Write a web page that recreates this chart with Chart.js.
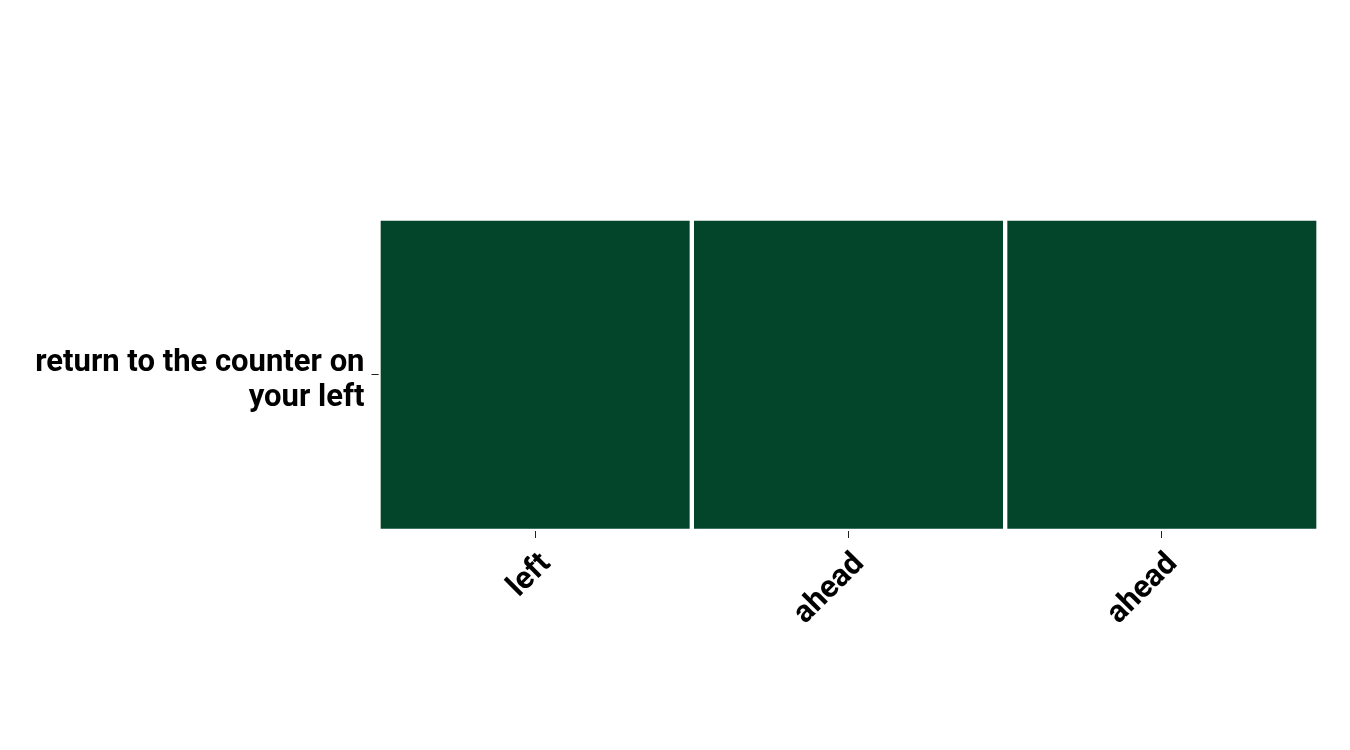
<!DOCTYPE html>
<html><head><meta charset="utf-8">
<script src="https://cdn.jsdelivr.net/npm/chart.js@4/dist/chart.umd.min.js"></script>
<style>html,body{margin:0;padding:0;background:#fff}#wrap{width:1350px;height:750px}</style>
</head><body><div id="wrap"><canvas id="c" width="1350" height="750"></canvas></div>
<script>
const columns = ["left", "ahead", "ahead"];
const rowLabel = ["return to the counter on", "your left"];
const cellValues = [1, 1, 1];
const cellColor = "#03452a";

new Chart(document.getElementById('c'), {
  type: 'bar',
  data: {
    labels: columns,
    datasets: [{
      data: cellValues.map(v => [0, v]),
      backgroundColor: cellColor,
      borderColor: '#ffffff',
      borderWidth: 2.5,
      borderSkipped: false,
      barPercentage: 1,
      categoryPercentage: 1
    }]
  },
  options: {
    responsive: false,
    animation: false,
    layout: { padding: { top: 218.5, right: 31.5, bottom: 99, left: 0 } },
    plugins: { legend: { display: false }, tooltip: { enabled: false } },
    scales: {
      x: {
        grid: { display: true, offset: false, drawOnChartArea: false, tickLength: 7, color: '#222' },
        border: { display: false },
        ticks: { color: '#000', font: { family: 'Roboto', weight: 'bold', size: 31 }, minRotation: 45, maxRotation: 45, padding: 8, labelOffset: 11 },
        afterFit: s => { s.height = 120; }
      },
      y: {
        min: 0, max: 1,
        grid: { display: true, drawOnChartArea: false, tickLength: 7, color: '#222' },
        border: { display: false },
        afterBuildTicks: s => { s.ticks = [{ value: 0.5 }]; },
        ticks: { color: '#000', font: { family: 'Roboto', weight: 'bold', size: 31, lineHeight: 1.13 }, padding: 7, labelOffset: 6, callback: () => rowLabel },
        afterFit: s => { s.width = 378.5; }
      }
    }
  }
});
</script></body></html>
